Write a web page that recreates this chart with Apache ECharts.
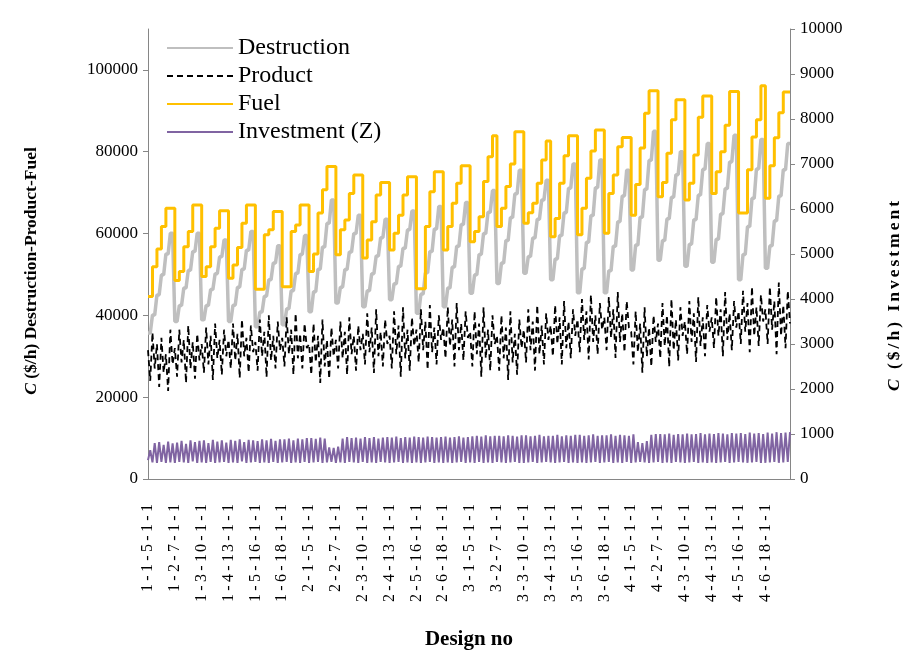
<!DOCTYPE html>
<html><head><meta charset="utf-8">
<script src="https://cdn.jsdelivr.net/npm/echarts@6/dist/echarts.min.js"></script>
<style>html,body{margin:0;padding:0;background:#fff;overflow:hidden}#c{width:904px;height:663px}</style>
</head><body><div id="c"></div>
<script>
// Labelled designs (one every 12 designs)
const tickLabels = ['1-1-5-1-1','1-2-7-1-1','1-3-10-1-1','1-4-13-1-1','1-5-16-1-1','1-6-18-1-1',
  '2-1-5-1-1','2-2-7-1-1','2-3-10-1-1','2-4-13-1-1','2-5-16-1-1','2-6-18-1-1',
  '3-1-5-1-1','3-2-7-1-1','3-3-10-1-1','3-4-13-1-1','3-5-16-1-1','3-6-18-1-1',
  '4-1-5-1-1','4-2-7-1-1','4-3-10-1-1','4-4-13-1-1','4-5-16-1-1','4-6-18-1-1'];
const designsPerLabel = 12;

// Fuel cost ($/h): 6 steps per labelled block, each step spans 2 designs
const fuelSteps = [
  [44600,51900,56200,61700,66200,66200],
  [48500,50700,56800,60500,67000,67000],
  [49500,51900,56800,61300,65600,65600],
  [49100,52300,56600,62500,67000,67000],
  [46400,46400,59700,60900,65400,65400],
  [47000,47000,60500,62100,67000,67000],
  [50700,55000,65000,70700,76400,76400],
  [54800,60900,63300,69800,74300,74300],
  [54000,58400,62900,69400,72500,72500],
  [56000,60100,64500,69400,73900,73900],
  [46500,46500,61700,70200,75100,75100],
  [56000,61700,67400,72300,76600,76600],
  [58000,60500,64100,72700,78800,83900],
  [61700,66200,71500,77000,84900,84900],
  [62500,65100,67400,72300,78000,82600],
  [59200,63700,72300,79000,83900,83900],
  [59700,66200,73500,80200,85300,85300],
  [60100,69800,74300,81200,83500,83500],
  [64500,72000,80900,89400,94900,94900],
  [69000,72500,79600,87800,92700,92700],
  [68200,72300,79200,88400,93600,93600],
  [69800,75100,80000,86500,94700,94700],
  [65000,65000,75600,83600,87800,96100],
  [68600,76600,83400,89500,94600,94600]
];

// Destruction cost ($/h): 6 steps per labelled block
const destructionSteps = [
  [35700,40100,45000,49900,55000,60100],
  [38500,42400,46700,51000,55600,60100],
  [38900,42400,46300,50200,54300,58400],
  [38500,42500,46900,51300,55900,60500],
  [37200,40800,44700,48700,52800,57000],
  [37700,41600,46000,50300,54900,59500],
  [40900,45800,51300,56700,62500,68200],
  [43000,46900,51200,55500,60000,64500],
  [42100,46000,50200,54500,59000,63500],
  [43800,47700,52000,56400,60900,65500],
  [40500,45200,50400,55600,61100,66600],
  [42100,46700,51800,56900,62200,67600],
  [45400,49900,54900,60000,65200,70500],
  [47800,52800,58300,63900,69700,75500],
  [50300,54400,58900,63500,68200,73000],
  [48700,53800,59500,65100,71100,77000],
  [45500,51400,57900,64400,71200,78000],
  [45500,50900,56900,62900,69200,75500],
  [51100,57200,64000,70800,77900,85000],
  [53500,58300,63600,68900,74400,80000],
  [52000,57400,63400,69400,75700,82000],
  [53000,58600,64800,71000,77500,84000],
  [48700,54900,61700,68600,75800,83000],
  [51500,57000,63100,69200,75600,82000]
];

// Product cost ($/h): 12 designs per labelled block
const productBlocks = [
  [31500,24000,35800,27000,33000,22500,34500,26000,30500,21500,36500,28000],
  [32000,25000,36500,28500,34000,23500,37500,27000,33500,24500,35500,29000],
  [33000,26000,37000,28000,35000,24200,38000,29500,34000,25500,36500,30000],
  [34000,27000,38000,29000,35500,24700,39000,30000,34500,26000,37500,31000],
  [33500,26500,39000,30000,36000,24900,40000,29000,35000,27000,38500,31500],
  [34500,27500,39500,30500,36500,25500,40500,29500,35500,27000,38000,32000],
  [33000,25500,38000,28500,35000,23500,39000,27500,34000,24500,37000,30000],
  [34000,27000,38500,29500,36000,25500,39500,30500,35000,26500,37500,31500],
  [35500,28000,40500,31000,37000,25900,41500,30000,36000,27500,39000,33000],
  [35000,27000,41000,30500,37500,25000,42000,29500,36500,26500,39500,32500],
  [36500,28500,41500,31500,38500,26700,42500,31000,37000,28000,40000,34000],
  [37000,29500,42000,32500,39000,27500,43000,31500,38000,29000,41000,34500],
  [36000,27500,41000,30500,38000,25000,42000,29500,36500,26500,40000,33000],
  [35000,26500,40000,29500,37000,24200,41000,28500,35500,25500,39000,32000],
  [36500,28500,41500,31500,38500,26500,42500,30500,37500,28000,40500,34000],
  [37500,30000,42500,33000,39500,28000,43500,32000,38500,29500,41500,35000],
  [39000,31000,44000,34000,41000,29200,45000,33500,40000,30500,43000,36500],
  [39500,31500,44500,34500,41500,29600,45700,33500,40500,31000,43500,37000],
  [36000,28000,41000,31000,38000,26000,42000,30000,37000,27500,40000,33500],
  [38000,29500,43000,32500,40000,27400,44000,31500,39000,29000,42000,35000],
  [38500,30500,43500,33500,40500,28600,44500,32500,39500,30000,42500,36000],
  [39500,32000,44500,35000,41500,30000,45700,34000,40500,31500,43500,37000],
  [41000,33000,46000,36000,43000,31000,47000,35000,42000,32500,45000,38500],
  [41500,33000,47000,36500,43500,30500,48000,35000,42500,32000,46000,38000]
];

// Investment cost Z ($/h), right axis: 12 designs per labelled block
const investmentBlocks = [
  [420,640,370,800,360,820,380,760,360,830,370,790],
  [360,810,380,850,370,780,360,860,390,820,360,850],
  [370,860,360,800,380,870,360,830,370,860,380,810],
  [360,870,370,850,360,880,390,820,360,870,370,860],
  [380,840,360,880,370,860,360,890,380,850,360,880],
  [370,880,380,900,360,860,370,900,360,880,380,910],
  [360,910,370,890,380,920,360,900,370,700,380,690],
  [360,720,370,900,360,930,380,910,370,920,360,900],
  [380,930,360,910,370,930,360,900,380,920,370,930],
  [360,920,370,940,380,910,360,930,370,920,360,940],
  [370,930,360,920,370,940,380,930,360,920,370,930],
  [360,940,370,920,360,930,370,950,380,920,360,930],
  [370,950,360,960,380,940,360,970,370,950,360,960],
  [380,960,370,950,360,970,370,960,380,940,360,970],
  [360,970,370,950,380,960,360,980,370,950,380,960],
  [370,960,360,980,370,950,380,970,360,960,370,980],
  [360,980,370,960,360,970,370,990,380,960,360,970],
  [370,970,380,990,360,960,370,980,360,970,380,960],
  [360,990,370,820,380,800,370,840,360,980,370,1000],
  [380,1000,360,990,370,1010,360,980,380,1000,370,990],
  [360,1010,370,990,380,1000,360,1020,370,990,360,1010],
  [370,1000,360,1020,370,1010,380,990,360,1020,370,1010],
  [380,1020,370,1000,360,1030,370,1010,380,1020,360,1000],
  [360,1030,370,1010,380,1040,360,1020,370,1030,380,1040]
];

// Build category axis: each labelled design followed by its unlabelled neighbours
const categories = [];
tickLabels.forEach(l => { for (let j = 0; j < designsPerLabel; j++) categories.push(j === 0 ? l : l + ' #' + (j + 1)); });
const expandSteps = blocks => blocks.flat().flatMap(v => [v, v]);
const fuel = expandSteps(fuelSteps);
const destruction = expandSteps(destructionSteps);
const product = productBlocks.flat();
const investment = investmentBlocks.flat();

const FONT = 'Liberation Serif';
const axisGray = '#868686';
// spaced-out characters (text itself kept intact)
const spaced = (s, key) => s.split('').map(ch => '{' + key + '|' + ch + '}').join('');

const chart = echarts.init(document.getElementById('c'), null, {renderer: 'canvas'});
chart.setOption({
  animation: false,
  backgroundColor: '#fff',
  grid: {left: 148, right: 114, top: 29, bottom: 184, containLabel: false, outerBoundsMode: 'none'},
  legend: {
    orient: 'vertical', left: 166, top: 34, padding: 0, itemWidth: 66, itemHeight: 14, itemGap: 0,
    itemStyle: {opacity: 0},
    textStyle: {fontFamily: FONT, fontSize: 24, color: '#000', lineHeight: 28},
    data: ['Destruction', 'Product', 'Fuel', 'Investment (Z)']
  },
  xAxis: {
    type: 'category', data: categories, boundaryGap: false,
    axisLine: {lineStyle: {color: axisGray, width: 1}},
    axisTick: {show: false},
    axisLabel: {interval: designsPerLabel - 1, rotate: 90, margin: 24, fontFamily: FONT, fontSize: 16, color: '#000',
      formatter: v => spaced(v, 'c'),
      rich: {c: {width: 10, align: 'center', fontFamily: FONT, fontSize: 16, color: '#000'}}},
    name: 'Design no', nameLocation: 'middle', nameGap: 150,
    nameTextStyle: {fontFamily: FONT, fontSize: 21, fontWeight: 'bold', color: '#000'}
  },
  yAxis: [{
    type: 'value', min: 0, max: 110000, interval: 20000, position: 'left',
    axisLine: {show: true, lineStyle: {color: axisGray}},
    axisTick: {show: true, length: 5, lineStyle: {color: axisGray}},
    splitLine: {show: false},
    axisLabel: {showMaxLabel: false, margin: 10, fontFamily: FONT, fontSize: 17, color: '#000', formatter: v => String(v)},
    name: '{i|C} ($/h) Destruction-Product-Fuel', nameLocation: 'middle', nameRotate: 90, nameGap: 108,
    nameTextStyle: {fontFamily: FONT, fontSize: 17.5, fontWeight: 'bold', color: '#000', padding: [0, 34, 0, 0],
      rich: {i: {fontFamily: FONT, fontSize: 17.5, fontWeight: 'bold', fontStyle: 'italic', color: '#000'}}}
  }, {
    type: 'value', min: 0, max: 10000, interval: 1000, position: 'right',
    axisLine: {show: true, lineStyle: {color: axisGray}},
    axisTick: {show: true, length: 5, lineStyle: {color: axisGray}},
    splitLine: {show: false},
    axisLabel: {margin: 10, fontFamily: FONT, fontSize: 17, color: '#000', formatter: v => String(v)},
    name: '{i|C}' + spaced(' ($/h) Investment', 's'), nameLocation: 'middle', nameRotate: 90, nameGap: 95,
    nameTextStyle: {fontFamily: FONT, fontSize: 17.5, fontWeight: 'bold', color: '#000', padding: [0, 84, 0, 0],
      rich: {
        i: {fontFamily: FONT, fontSize: 17.5, fontWeight: 'bold', fontStyle: 'italic', color: '#000', padding: [0, 1.5, 0, 1.5]},
        s: {fontFamily: FONT, fontSize: 17.5, fontWeight: 'bold', color: '#000', padding: [0, 1.5, 0, 1.5]}
      }}
  }],
  series: [
    {name: 'Destruction', type: 'line', data: destruction, symbol: 'none', silent: true,
     lineStyle: {color: '#BFBFBF', width: 3.5}, itemStyle: {color: '#BFBFBF'}},
    {name: 'Product', type: 'line', data: product, symbol: 'none', silent: true,
     lineStyle: {color: '#000', width: 1.8, type: [6, 4]}, itemStyle: {color: '#000'}},
    {name: 'Fuel', type: 'line', data: fuel, step: 'end', symbol: 'none', silent: true,
     lineStyle: {color: '#FFC000', width: 3}, itemStyle: {color: '#FFC000'}},
    {name: 'Investment (Z)', type: 'line', yAxisIndex: 1, data: investment, symbol: 'none', silent: true,
     lineStyle: {color: '#8064A2', width: 2}, itemStyle: {color: '#8064A2'}}
  ]
});
</script></body></html>
